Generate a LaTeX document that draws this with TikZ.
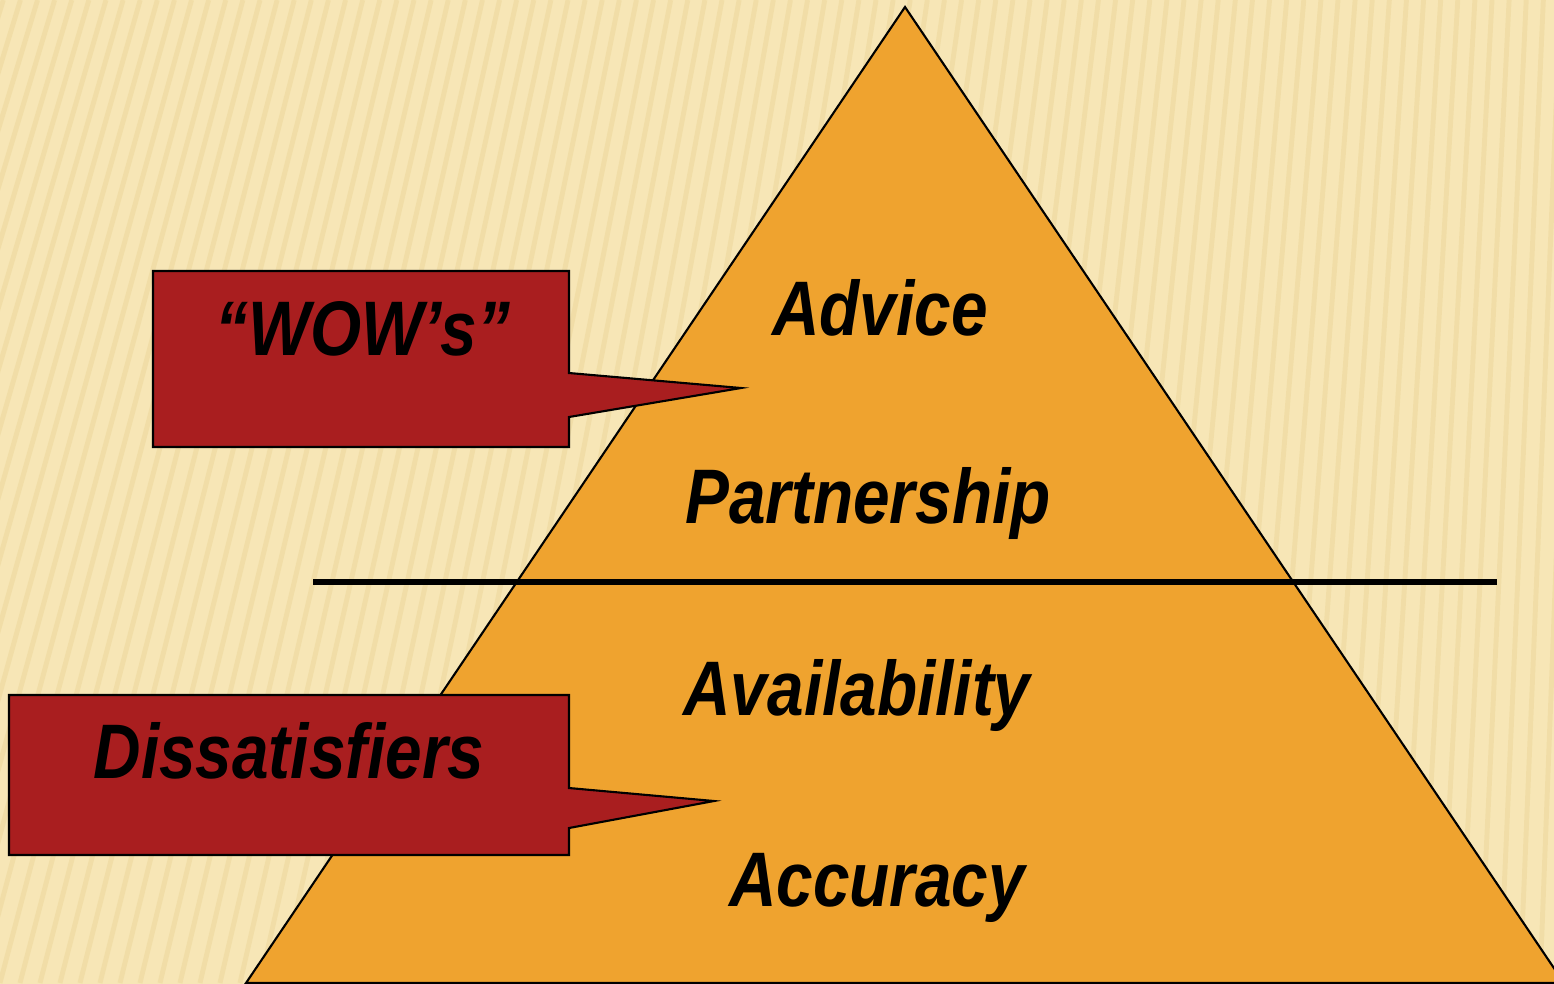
\documentclass[tikz,border=0pt]{standalone}
\usepackage{fontspec}
\newfontfamily\pyrfont[FakeStretch=0.85]{Liberation Sans}
\usepackage{tikz}
\definecolor{paper}{HTML}{FDF2CE}
\definecolor{paperdark}{HTML}{F7E6B6}
\definecolor{stripe}{HTML}{E6CF8C}
\definecolor{pyrorange}{HTML}{EFA32F}
\definecolor{calloutred}{HTML}{A91E1F}

\begin{document}
\begin{tikzpicture}
\tikzset{pyrlabel/.style={inner sep=0pt, font=\pyrfont\bfseries\itshape\fontsize{22}{26}\selectfont, text=black},
  callout/.style={draw=black, line width=0.6pt, fill=calloutred}}
\clip (0, 0) rectangle (15.54, 9.83);
\shade[left color=paperdark, middle color=paper, right color=paperdark] (0, 0) rectangle (15.54, 9.83);
\foreach \x in {-3,-2.8,...,16}
  \draw[stripe, line width=1.4pt, opacity=0.35] (\x, 0) -- ({\x + 2.6*(1 - \x/18)}, 9.83);
\draw[fill=pyrorange, line width=0.6pt] (9.05, 9.76) -- (15.64, 0) -- (2.46, 0) -- cycle;
\draw[line width=1.7pt] (3.13, 4.01) -- (14.97, 4.01);
\node[pyrlabel] (advice) at (8.80, 6.75) {Advice};
\node[pyrlabel] (partner) at (8.68, 4.80) {Partnership};
\node[pyrlabel] (avail) at (8.57, 2.88) {Availability};
\node[pyrlabel] (accur) at (8.77, 0.95) {Accuracy};
\draw[callout] (1.53, 7.12) -- (5.69, 7.12) -- (5.69, 6.10) -- (7.41, 5.95) -- (5.69, 5.66)
  -- (5.69, 5.36) -- (1.53, 5.36) -- cycle;
\draw[callout] (0.09, 2.88) -- (5.69, 2.88) -- (5.69, 1.95) -- (7.14, 1.82) -- (5.69, 1.55)
  -- (5.69, 1.28) -- (0.09, 1.28) -- cycle;
\node[pyrlabel] (wows) at (3.63, 6.54) {“WOW’s”};
\node[pyrlabel] (dissat) at (2.89, 2.32) {Dissatisfiers};
\end{tikzpicture}
\end{document}
